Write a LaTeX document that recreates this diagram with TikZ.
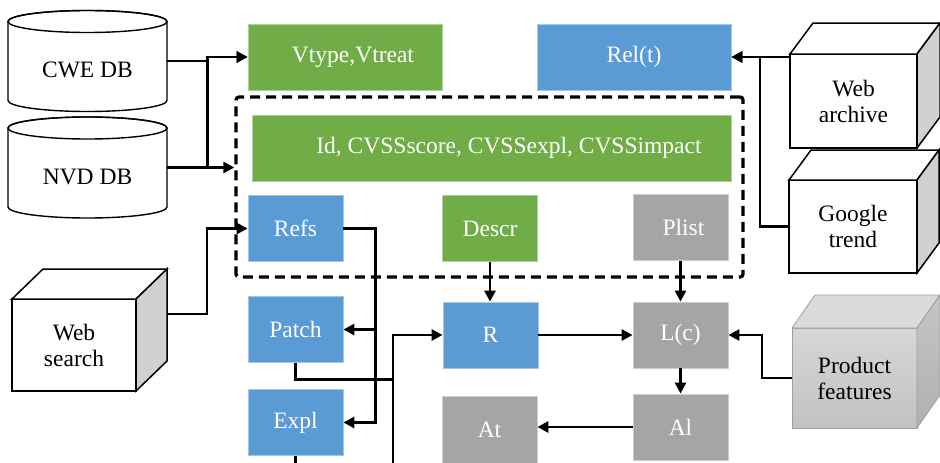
\documentclass[tikz,border=0pt]{standalone}
\usepackage{fontspec}
\setmainfont{Liberation Serif}
\usetikzlibrary{arrows.meta}

\definecolor{boxgreen}{HTML}{70AD47}
\definecolor{boxblue}{HTML}{5B9BD5}
\definecolor{boxgray}{HTML}{A5A5A5}
\definecolor{cubeside}{HTML}{D0D0D0}

\begin{document}
\begin{tikzpicture}[x=1pt, y=-1pt, >={Triangle[length=11pt,width=11pt]},
    every node/.style={font=\fontsize{23.5}{26}\selectfont},
    box/.style={fill=#1, draw=#1!55!white, line width=0.8pt, text=white,
        minimum width=95pt, minimum height=66pt, inner sep=0pt},
    cube/.style={draw, line width=1.5pt, fill=white, align=center,
        inner sep=0pt, outer sep=0pt},
    link/.style={line width=2.9pt}]

    \useasboundingbox (0,0) rectangle (940,463);

    % Databases
    \foreach \n/\yc/\lab in {cwe/21.5/CWE DB, nvd/128/NVD DB} {
        \draw[line width=1.4pt, fill=white] (8,\yc) -- (8,\yc+79)
            arc[start angle=180, end angle=360, x radius=79.5pt, y radius=11pt]
            -- (167,\yc)
            arc[start angle=0, end angle=180, x radius=79.5pt, y radius=11pt];
        \draw[line width=1.4pt] (87.5,\yc) ellipse[x radius=79.5pt, y radius=11pt];
        \node[minimum width=159pt, inner sep=0pt] (\n) at (87.5, \yc+48.5) {\lab};
    }

    % Dashed group
    \node[draw, dash pattern=on 10pt off 6pt, line width=3.3pt, rounded corners=3pt,
        minimum width=507pt, minimum height=180pt] (vgroup) at (489.5, 187) {};

    % Green / blue / gray blocks
    \node[box=boxgreen, minimum width=194pt] (vtype) at (345, 57) {\hspace*{16pt}Vtype,Vtreat};
    \node[box=boxblue, minimum width=194pt] (relt) at (634, 57) {Rel(t)};
    \node[box=boxgreen, minimum width=479pt] (idbox) at (491.5, 148) {\hspace*{35pt}Id, CVSSscore, CVSSexpl, CVSSimpact};
    \node[box=boxblue] (refs) at (295.5, 228.5) {Refs};
    \node[box=boxgreen] (descr) at (490, 228.5) {Descr};
    \node[box=boxgray] (plist) at (680.5, 227.5) {\hspace*{6pt}Plist};
    \node[box=boxblue] (patch) at (295.5, 329.5) {Patch};
    \node[box=boxblue] (expl) at (295.5, 422.5) {Expl};
    \node[box=boxblue] (r) at (490.5, 335) {R};
    \node[box=boxgray] (lc) at (680.5, 335) {L(c)};
    \node[box=boxgray, minimum height=67pt] (at) at (489.5, 429.5) {At};
    \node[box=boxgray] (al) at (680.5, 427) {Al};

    % Sources
    \node[cube, minimum width=128pt, minimum height=93pt] (gtrend) at (853, 226.5) {Google\\trend};
    \node[cube, minimum width=127pt, minimum height=94pt] (webarch) at (853.5, 101) {Web\\archive};
    \node[cube, minimum width=124pt, minimum height=92pt] (websearch) at (74, 345) {Web\\search};
    \foreach \c/\dx/\dy in {gtrend/22/30, webarch/23/31, websearch/31/30} {
        \draw[line width=1.5pt, fill=white] (\c.north west) -- ([shift={(\dx,-\dy)}]\c.north west)
            -- ([shift={(\dx,-\dy)}]\c.north east) -- (\c.north east) -- cycle;
        \draw[line width=1.5pt, fill=cubeside] (\c.north east) -- ([shift={(\dx,-\dy)}]\c.north east)
            -- ([shift={(\dx,-\dy)}]\c.south east) -- (\c.south east) -- cycle;
    }

    % Product features
    \node[draw=gray!75, line width=0.8pt, top color=gray!32, bottom color=gray!48, align=center,
        inner sep=0pt, outer sep=0pt, minimum width=125pt, minimum height=100pt] (prodfeat) at (854.5, 378) {Product\\features};
    \draw[draw=gray!75, line width=0.8pt, fill=gray!28] (prodfeat.north west) -- ([shift={(23,-33)}]prodfeat.north west)
        -- ([shift={(23,-33)}]prodfeat.north east) -- (prodfeat.north east) -- cycle;
    \draw[draw=gray!75, line width=0.8pt, top color=gray!45, bottom color=gray!62] (prodfeat.north east) -- ([shift={(23,-33)}]prodfeat.north east)
        -- ([shift={(23,-33)}]prodfeat.south east) -- (prodfeat.south east) -- cycle;

    % Database links
    \draw[link, ->] ([yshift=9pt]cwe.east) -- ++(40,0) |- (vtype.west);
    \draw[link, ->] ([yshift=9pt]nvd.east) -- ++(40,0) |- (vtype.west);
    \draw[link, ->] ([yshift=9pt]nvd.east) -- ([yshift=9pt]nvd.east -| vgroup.west);

    % Web links
    \draw[link, ->] (webarch.west |- relt.east) -- (relt.east);
    \draw[link, ->] (gtrend.west) -- ++(-29,0) |- (relt.east);
    \draw[link, ->] ([xshift=31pt,yshift=31pt]websearch.east) -- ++(40,0) |- (refs.west);

    % References
    \draw[link, ->] (refs.east) -- ++(32,0) |- (patch.east);
    \draw[link, ->] (refs.east) -- ++(32,0) |- (expl.east);

    % Into R
    \coordinate (below) at (393, 475);
    \draw[link, ->] (below) |- (r.west);
    \draw[link] (patch.south) -- ++(0,17) -| (below);
    \draw[link] (expl.south) -- ++(0,20);
    \draw[link, ->] (descr.south) -- (descr.south |- r.north);

    % Product chain
    \draw[link, ->] (plist.south) -- (lc.north);
    \draw[link, ->] (r.east) -- (lc.west);
    \draw[link, ->] (lc.south) -- (al.north);
    \draw[link, ->] (al.west) -- (al.west -| at.east);
    \draw[link, ->] (prodfeat.west) -- ++(-30,0) |- (lc.east);

\end{tikzpicture}
\end{document}
